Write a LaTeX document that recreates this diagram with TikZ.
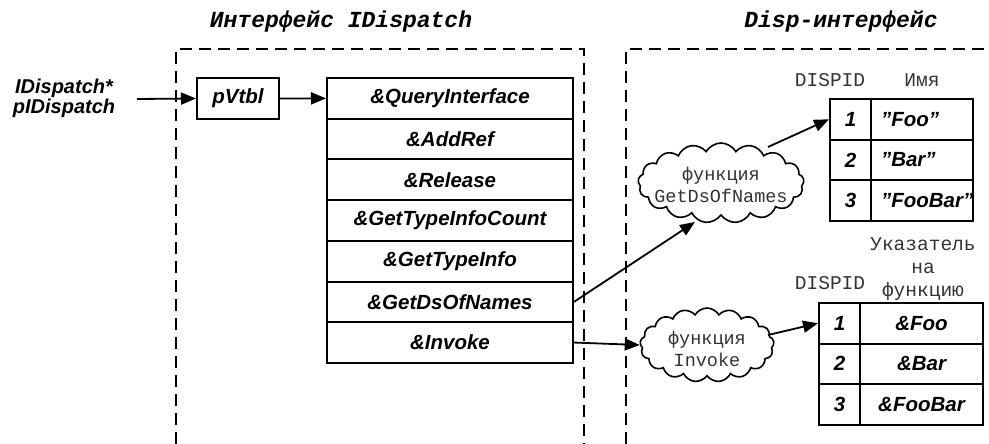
\documentclass[tikz,border=0pt]{standalone}
\usepackage{fontspec}
\setmainfont{Liberation Sans}
\newfontfamily\monofam{Liberation Mono}
\usetikzlibrary{shapes.symbols,arrows.meta}
\newcommand{\dq}{\symbol{34}}
\begin{document}
\begin{tikzpicture}[x=1pt,y=-1pt,
  cell/.style={draw,line width=2pt,rectangle,inner sep=0pt,font=\fontsize{20.5}{23}\selectfont\bfseries\itshape},
  dashbox/.style={line width=1.7pt,dash pattern=on 12pt off 7pt},
  conn/.style={line width=1.8pt,-{Triangle[length=15pt,width=12pt]}},
  cloudshape/.style={cloud,draw,line width=1.6pt,cloud puffs=17,cloud puff arc=120,inner sep=0pt,aspect=2},
  monolabel/.style={font=\fontsize{19.5}{22}\selectfont\monofam,text=black!80,inner sep=0pt},
  cloudtext/.style={font=\fontsize{18.5}{22}\selectfont\monofam,text=black!80,inner sep=0pt,align=center},
  title/.style={font=\fontsize{23}{26}\selectfont\monofam\bfseries\itshape,inner sep=0pt},
  lbl/.style={font=\fontsize{20}{22}\selectfont\bfseries\itshape,inner sep=0pt}]
\useasboundingbox (0,0) rectangle (989,444);
% titles
\node[title] (t1) at (341,22) {Интерфейс IDispatch};
\node[title] (t2) at (841,22) {Disp-интерфейс};
% dashed frames
\draw[dashbox] (176,444) -- (176,49) -- (584,49) -- (584,444);
\draw[dashbox] (626,444) -- (626,49) -- (989,49);
% pointer
\node[lbl,align=center] (ptr) at (64,98) {IDispatch*\\[-2pt]pIDispatch};
\coordinate (pstart) at (137,99);
\node[cell,minimum width=82pt,minimum height=41pt] (pv) at (238,98.5) {pVtbl};
% vtable
\foreach \i/\t in {1/\&QueryInterface,2/\&AddRef,3/\&Release,4/\&GetTypeInfoCount,5/\&GetTypeInfo,6/\&GetDsOfNames,7/\&Invoke}{
  \node[cell,minimum width=246pt,minimum height=40.7pt] (r\i) at (450,{78+20.35+(\i-1)*40.7}) {\t};
}
\draw[conn] (pstart) -- (pv.west);
\draw[conn] (pv.east) -- (r1.west);
% clouds
\node[cloudshape,minimum width=166pt,minimum height=80pt] (c1) at (721,183) {};
\node[cloudtext] (c1t) at (721,185) {функция\\GetDsOfNames};
\node[cloudshape,minimum width=134pt,minimum height=74pt] (c2) at (707,345) {};
\node[cloudtext] (c2t) at (707,349) {функция\\Invoke};
% name table
\node[monolabel] (h1a) at (830,80) {DISPID};
\node[monolabel] (h1b) at (922,80) {Имя};
\foreach \i/\n/\s in {1/1/Foo,2/2/Bar,3/3/FooBar}{
  \node[cell,minimum width=41pt,minimum height=40.6pt] (a\i) at (850.5,{99+20.3+(\i-1)*40.6}) {\n};
  \node[cell,minimum width=102pt,minimum height=40.6pt] (b\i) at (922,{99+20.3+(\i-1)*40.6}) {\makebox[98pt][l]{\hspace*{8pt}\dq\s\dq}};
}
% function table
\node[monolabel] (h2a) at (830,283) {DISPID};
\node[monolabel,align=center] (h2b) at (923,269) {Указатель\\[1pt]на\\[1pt]функцию};
\foreach \i/\n/\s in {1/1/\&Foo,2/2/\&Bar,3/3/\&FooBar}{
  \node[cell,minimum width=41pt,minimum height=40.5pt] (d\i) at (839.5,{303+20.25+(\i-1)*40.5}) {\n};
  \node[cell,minimum width=123pt,minimum height=40.5pt] (e\i) at (921.5,{303+20.25+(\i-1)*40.5}) {\s};
}
% connectors
\draw[conn] (r6.east) -- (695,222);
\draw[conn] (r7.east) -- (c2.west);
\draw[conn] (768,147) -- (a1.west);
\draw[conn] (768,335) -- (d1.west);
\end{tikzpicture}
\end{document}
